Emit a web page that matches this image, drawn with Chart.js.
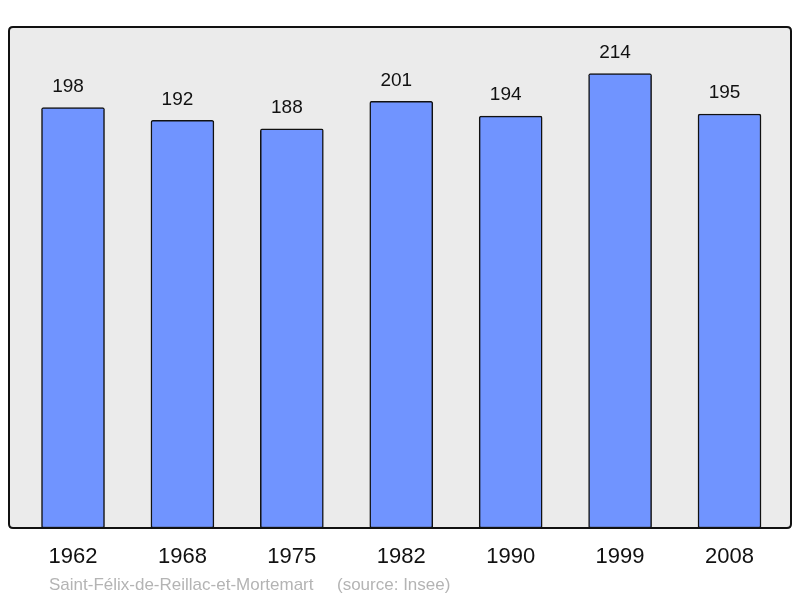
<!DOCTYPE html>
<html><head><meta charset="utf-8">
<script src="https://cdn.jsdelivr.net/npm/chart.js@4.4.1/dist/chart.umd.min.js"></script>
<style>html,body{margin:0;padding:0;background:#fff;}#wrap{width:800px;height:598px;}</style>
</head><body><div id="wrap"><canvas id="c" width="800" height="598"></canvas></div>
<script>
const years = ["1962","1968","1975","1982","1990","1999","2008"];
const population = [198,192,188,201,194,214,195];
const captionPlace = "Saint-Félix-de-Reillac-et-Mortemart";
const captionSource = "(source: Insee)";

function rr(ctx,x,y,w,h,r){ctx.beginPath();ctx.moveTo(x+r,y);ctx.lineTo(x+w-r,y);ctx.quadraticCurveTo(x+w,y,x+w,y+r);ctx.lineTo(x+w,y+h-r);ctx.quadraticCurveTo(x+w,y+h,x+w-r,y+h);ctx.lineTo(x+r,y+h);ctx.quadraticCurveTo(x,y+h,x,y+h-r);ctx.lineTo(x,y+r);ctx.quadraticCurveTo(x,y,x+r,y);ctx.closePath();}

const framePlugin = {
  id:'frame',
  beforeDatasetsDraw(chart){
    const a=chart.chartArea, ctx=chart.ctx;
    ctx.save(); rr(ctx,a.left,a.top,a.right-a.left,a.bottom-a.top,4);
    ctx.fillStyle='#ebebeb'; ctx.fill(); ctx.restore();
  },
  afterDatasetsDraw(chart){
    const a=chart.chartArea, ctx=chart.ctx;
    ctx.save(); rr(ctx,a.left,a.top,a.right-a.left,a.bottom-a.top,4);
    ctx.lineWidth=2; ctx.strokeStyle='#111'; ctx.stroke();
    const meta=chart.getDatasetMeta(0);
    ctx.fillStyle='#111'; ctx.font='19px "Liberation Sans", Arial, sans-serif';
    ctx.textAlign='center'; ctx.textBaseline='middle';
    meta.data.forEach((el,i)=>{ ctx.fillText(String(population[i]), el.x-5, el.y-21); });
    ctx.fillStyle='#b4b4b4'; ctx.font='17px "Liberation Sans", Arial, sans-serif';
    ctx.textAlign='left';
    ctx.fillText(captionPlace, 49, 585);
    ctx.fillText(captionSource, 337, 585);
    ctx.restore();
  }
};

new Chart(document.getElementById('c'),{
  type:'bar',
  data:{datasets:[{
    data: population.map((v,i)=>({x:i,y:v})),
    backgroundColor:'#7094ff', borderColor:'#111', borderWidth:1.5, borderRadius:2,
    borderSkipped:false, barThickness:63
  }]},
  options:{
    responsive:false, animation:false,
    layout:{padding:{left:9,right:9,top:27,bottom:0}},
    plugins:{legend:{display:false},tooltip:{enabled:false}},
    scales:{
      x:{type:'linear', min:-0.585, max:6.562, offset:false,
        grid:{display:false}, border:{display:false},
        afterBuildTicks(s){ s.ticks = years.map((_,i)=>({value:i})); },
        afterFit(s){ s.height = 70; },
        ticks:{autoSkip:false, maxRotation:0, padding:8, color:'#111',
          font:{family:'"Liberation Sans", Arial, sans-serif', size:22},
          callback:(v)=>years[v]}
      },
      y:{display:false, min:0, max:236}
    }
  },
  plugins:[framePlugin]
});
</script></body></html>
